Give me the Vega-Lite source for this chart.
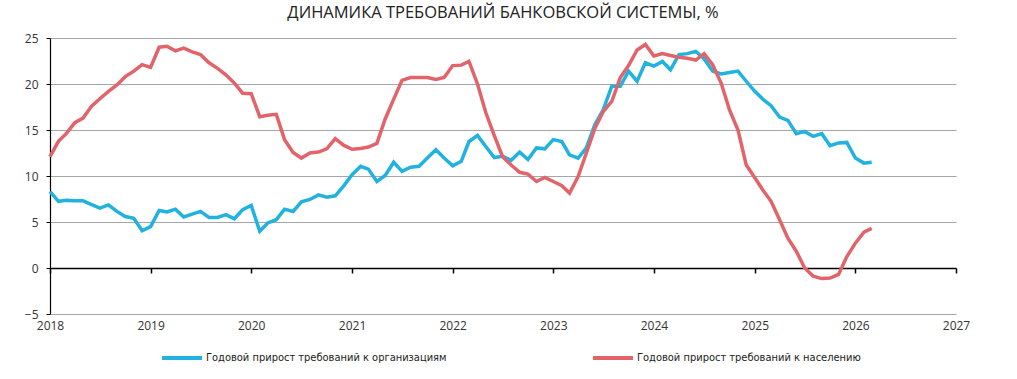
{
  "$schema": "https://vega.github.io/schema/vega-lite/v6.json",
  "width": 906,
  "height": 276,
  "autosize": "none",
  "padding": {"left": 50, "top": 38, "right": 61, "bottom": 65},
  "title": {"text": "ДИНАМИКА ТРЕБОВАНИЙ БАНКОВСКОЙ СИСТЕМЫ, %", "font": "Open Sans", "fontSize": 16.5, "fontWeight": "normal", "color": "#222222", "anchor": "middle", "frame": "group", "offset": 11},
  "data": {"values": [
    {"date": "2018-01-01", "org": 8.3, "pop": 12.1},
    {"date": "2018-02-01", "org": 7.25, "pop": 13.8},
    {"date": "2018-03-01", "org": 7.35, "pop": 14.6},
    {"date": "2018-04-01", "org": 7.3, "pop": 15.8},
    {"date": "2018-05-01", "org": 7.3, "pop": 16.3},
    {"date": "2018-06-01", "org": 6.9, "pop": 17.6},
    {"date": "2018-07-01", "org": 6.5, "pop": 18.4},
    {"date": "2018-08-01", "org": 6.85, "pop": 19.2},
    {"date": "2018-09-01", "org": 6.15, "pop": 19.9},
    {"date": "2018-10-01", "org": 5.6, "pop": 20.8},
    {"date": "2018-11-01", "org": 5.4, "pop": 21.4},
    {"date": "2018-12-01", "org": 4.05, "pop": 22.1},
    {"date": "2019-01-01", "org": 4.5, "pop": 21.8},
    {"date": "2019-02-01", "org": 6.25, "pop": 24.0},
    {"date": "2019-03-01", "org": 6.1, "pop": 24.1},
    {"date": "2019-04-01", "org": 6.4, "pop": 23.6},
    {"date": "2019-05-01", "org": 5.55, "pop": 23.9},
    {"date": "2019-06-01", "org": 5.85, "pop": 23.5},
    {"date": "2019-07-01", "org": 6.15, "pop": 23.2},
    {"date": "2019-08-01", "org": 5.5, "pop": 22.3},
    {"date": "2019-09-01", "org": 5.5, "pop": 21.7},
    {"date": "2019-10-01", "org": 5.8, "pop": 21.0},
    {"date": "2019-11-01", "org": 5.35, "pop": 20.1},
    {"date": "2019-12-01", "org": 6.35, "pop": 19.0},
    {"date": "2020-01-01", "org": 6.8, "pop": 18.95},
    {"date": "2020-02-01", "org": 4.0, "pop": 16.45},
    {"date": "2020-03-01", "org": 4.9, "pop": 16.6},
    {"date": "2020-04-01", "org": 5.25, "pop": 16.7},
    {"date": "2020-05-01", "org": 6.4, "pop": 13.95},
    {"date": "2020-06-01", "org": 6.15, "pop": 12.55},
    {"date": "2020-07-01", "org": 7.2, "pop": 11.95},
    {"date": "2020-08-01", "org": 7.45, "pop": 12.5},
    {"date": "2020-09-01", "org": 7.95, "pop": 12.6},
    {"date": "2020-10-01", "org": 7.7, "pop": 12.95},
    {"date": "2020-11-01", "org": 7.85, "pop": 14.05},
    {"date": "2020-12-01", "org": 8.9, "pop": 13.35},
    {"date": "2021-01-01", "org": 10.15, "pop": 12.9},
    {"date": "2021-02-01", "org": 11.05, "pop": 13.0},
    {"date": "2021-03-01", "org": 10.75, "pop": 13.15},
    {"date": "2021-04-01", "org": 9.4, "pop": 13.55},
    {"date": "2021-05-01", "org": 10.05, "pop": 16.2},
    {"date": "2021-06-01", "org": 11.5, "pop": 18.35},
    {"date": "2021-07-01", "org": 10.5, "pop": 20.4},
    {"date": "2021-08-01", "org": 10.95, "pop": 20.7},
    {"date": "2021-09-01", "org": 11.05, "pop": 20.7},
    {"date": "2021-10-01", "org": 11.95, "pop": 20.7},
    {"date": "2021-11-01", "org": 12.85, "pop": 20.5},
    {"date": "2021-12-01", "org": 11.95, "pop": 20.7},
    {"date": "2022-01-01", "org": 11.1, "pop": 22.0},
    {"date": "2022-02-01", "org": 11.6, "pop": 22.05},
    {"date": "2022-03-01", "org": 13.75, "pop": 22.45},
    {"date": "2022-04-01", "org": 14.4, "pop": 20.0},
    {"date": "2022-05-01", "org": 13.2, "pop": 16.9},
    {"date": "2022-06-01", "org": 12.0, "pop": 14.4},
    {"date": "2022-07-01", "org": 12.15, "pop": 12.1},
    {"date": "2022-08-01", "org": 11.7, "pop": 11.2},
    {"date": "2022-09-01", "org": 12.6, "pop": 10.4},
    {"date": "2022-10-01", "org": 11.8, "pop": 10.2},
    {"date": "2022-11-01", "org": 13.05, "pop": 9.4},
    {"date": "2022-12-01", "org": 12.95, "pop": 9.85},
    {"date": "2023-01-01", "org": 13.95, "pop": 9.4},
    {"date": "2023-02-01", "org": 13.75, "pop": 8.95},
    {"date": "2023-03-01", "org": 12.3, "pop": 8.15},
    {"date": "2023-04-01", "org": 11.95, "pop": 9.95},
    {"date": "2023-05-01", "org": 13.05, "pop": 12.5},
    {"date": "2023-06-01", "org": 15.6, "pop": 15.2},
    {"date": "2023-07-01", "org": 17.2, "pop": 17.0},
    {"date": "2023-08-01", "org": 19.75, "pop": 18.1},
    {"date": "2023-09-01", "org": 19.75, "pop": 20.7},
    {"date": "2023-10-01", "org": 21.4, "pop": 22.0},
    {"date": "2023-11-01", "org": 20.3, "pop": 23.7},
    {"date": "2023-12-01", "org": 22.3, "pop": 24.3},
    {"date": "2024-01-01", "org": 21.95, "pop": 23.05},
    {"date": "2024-02-01", "org": 22.45, "pop": 23.3},
    {"date": "2024-03-01", "org": 21.55, "pop": 23.1},
    {"date": "2024-04-01", "org": 23.2, "pop": 22.9},
    {"date": "2024-05-01", "org": 23.3, "pop": 22.8},
    {"date": "2024-06-01", "org": 23.55, "pop": 22.6},
    {"date": "2024-07-01", "org": 22.75, "pop": 23.3},
    {"date": "2024-08-01", "org": 21.4, "pop": 22.1},
    {"date": "2024-09-01", "org": 21.1, "pop": 20.1},
    {"date": "2024-10-01", "org": 21.25, "pop": 17.2},
    {"date": "2024-11-01", "org": 21.4, "pop": 15.0},
    {"date": "2024-12-01", "org": 20.3, "pop": 11.2},
    {"date": "2025-01-01", "org": 19.2, "pop": 9.8},
    {"date": "2025-02-01", "org": 18.3, "pop": 8.4},
    {"date": "2025-03-01", "org": 17.65, "pop": 7.25},
    {"date": "2025-04-01", "org": 16.4, "pop": 5.25},
    {"date": "2025-05-01", "org": 16.05, "pop": 3.25},
    {"date": "2025-06-01", "org": 14.6, "pop": 1.8},
    {"date": "2025-07-01", "org": 14.85, "pop": 0.0},
    {"date": "2025-08-01", "org": 14.3, "pop": -0.9},
    {"date": "2025-09-01", "org": 14.6, "pop": -1.15},
    {"date": "2025-10-01", "org": 13.3, "pop": -1.1},
    {"date": "2025-11-01", "org": 13.6, "pop": -0.7},
    {"date": "2025-12-01", "org": 13.65, "pop": 1.25},
    {"date": "2026-01-01", "org": 11.95, "pop": 2.7},
    {"date": "2026-02-01", "org": 11.4, "pop": 3.9},
    {"date": "2026-03-01", "org": 11.5, "pop": 4.3}
  ]},
  "layer": [
    {
      "mark": {"type": "line", "strokeWidth": 3.5},
      "encoding": {
        "x": {"field": "date", "type": "temporal",
              "scale": {"type": "utc", "domain": [{"year": 2018, "month": 1, "date": 1, "utc": true}, {"year": 2027, "month": 1, "date": 1, "utc": true}]},
              "axis": {"orient": "bottom", "title": null, "domain": false, "ticks": false, "tickSize": 0, "grid": false, "labelPadding": 6, "labelFlush": false, "format": "%Y", "formatType": "utc",
                       "values": [{"year": 2018, "utc": true}, {"year": 2019, "utc": true}, {"year": 2020, "utc": true}, {"year": 2021, "utc": true}, {"year": 2022, "utc": true}, {"year": 2023, "utc": true}, {"year": 2024, "utc": true}, {"year": 2025, "utc": true}, {"year": 2026, "utc": true}, {"year": 2027, "utc": true}]}},
        "y": {"field": "org", "type": "quantitative", "scale": {"domain": [-5, 25], "nice": false},
              "axis": {"title": null, "values": [-5, 0, 5, 10, 15, 20, 25]}},
        "color": {"datum": "Годовой прирост требований к организациям", "type": "nominal",
                  "scale": {"domain": ["Годовой прирост требований к организациям", "Годовой прирост требований к населению"], "range": ["#22B2DF", "#E2646A"]}}
      }
    },
    {
      "mark": {"type": "line", "strokeWidth": 3.5},
      "encoding": {
        "x": {"field": "date", "type": "temporal",
              "axis": {"orient": "bottom", "offset": -46, "title": null, "labels": false, "domain": true, "domainColor": "#000000", "domainWidth": 1.5, "ticks": true, "tickColor": "#000000", "tickSize": 5, "tickWidth": 1.5, "grid": false,
                       "values": [{"year": 2018, "utc": true}, {"year": 2019, "utc": true}, {"year": 2020, "utc": true}, {"year": 2021, "utc": true}, {"year": 2022, "utc": true}, {"year": 2023, "utc": true}, {"year": 2024, "utc": true}, {"year": 2025, "utc": true}, {"year": 2026, "utc": true}, {"year": 2027, "utc": true}]}},
        "y": {"field": "pop", "type": "quantitative",
              "axis": {"title": null, "values": [-5, 0, 5, 10, 15, 20, 25]}},
        "color": {"datum": "Годовой прирост требований к населению", "type": "nominal"}
      }
    }
  ],
  "resolve": {"axis": {"x": "independent"}},
  "config": {
    "view": {"stroke": null},
    "axis": {"labelFont": "Open Sans", "labelFontSize": 12, "labelColor": "#333333"},
    "axisY": {"domainColor": "#000000", "domainWidth": 1.2, "tickColor": "#000000", "tickSize": 4, "gridColor": "#a6a6a6", "gridWidth": 1, "labelPadding": 8},
    "legend": {"orient": "none", "legendX": 110, "legendY": 298, "direction": "horizontal", "title": null, "symbolType": "stroke", "symbolSize": 1600, "symbolStrokeWidth": 4, "labelFont": "DejaVu Sans Condensed, Liberation Sans, sans-serif", "labelFontSize": 11, "labelColor": "#222222", "labelOffset": 2, "columnPadding": 138, "labelLimit": 400}
  }
}
